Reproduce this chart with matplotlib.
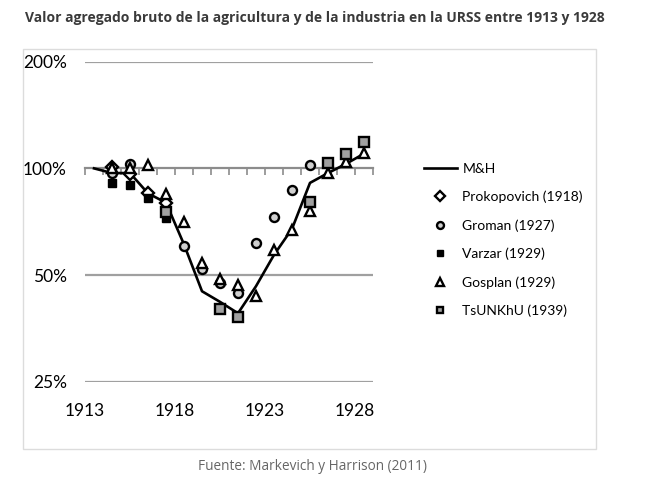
import numpy as np
import matplotlib.pyplot as plt
from matplotlib.patches import Rectangle
from matplotlib.lines import Line2D
import matplotlib.transforms as mtransforms

# data (index, 1913 = 100%)
years = list(range(1913, 1929))
mh = [100, 97, 97, 85, 80, 61, 45, 42, 39, 46.5, 57, 67.5, 91, 97, 103, 110]

prok_years = [1914, 1915, 1916, 1917]
prok_vals = [101, 96.5, 85, 80]

groman_years = [1914, 1915, 1918, 1919, 1920, 1921, 1922, 1923, 1924, 1925]
groman_vals = [97, 103, 60.5, 52, 47.4, 44.6, 61.5, 73, 87, 102]

varzar_years = [1914, 1915, 1916, 1917]
varzar_vals = [91, 90, 82.4, 72.3]

gosplan_years = list(range(1914, 1929))
gosplan_vals = [100, 100.5, 102.4, 84.7, 70.8, 54, 48.8, 47, 43.7, 59, 67, 76, 97, 104, 110.7]

tsu_years = [1917, 1920, 1921, 1925, 1926, 1927, 1928]
tsu_vals = [75.5, 40, 38, 80.6, 103.4, 110, 119]

ytick_vals = [25, 50, 100, 200]
ytick_labels = ['25%', '50%', '100%', '200%']
xlabel_years = [1913, 1918, 1923, 1928]

W, H = 652, 479
fig = plt.figure(figsize=(W / 100, H / 100), dpi=100)
fig.patch.set_facecolor('white')

# light frame around the embedded chart
fig.patches.append(Rectangle((23 / W, 1 - 449 / H), 573 / W, 400 / H,
                             transform=fig.transFigure, fill=False,
                             edgecolor='#dcdcdc', linewidth=1))

ax = fig.add_axes([85 / W, 1 - 381.7 / H, 288 / W, 320 / H])
ax.set_yscale('log')
ax.set_ylim(25, 200)
ax.set_xlim(1912.5, 1928.5)

for s in ['left', 'right', 'top']:
    ax.spines[s].set_visible(False)
ax.spines['bottom'].set_position(('data', 100))
ax.spines['bottom'].set_color('#8c8c8c')
ax.spines['bottom'].set_linewidth(1.6)
ax.set_xticks(np.arange(1912.5, 1929, 1))
ax.tick_params(axis='x', direction='out', length=5, width=1.2,
               color='#8c8c8c', labelbottom=False)

for v in ytick_vals:
    if v != 100:
        ax.axhline(v, color='#a0a0a0', linewidth=1.6, zorder=1)

ax.yaxis.set_major_locator(plt.FixedLocator(ytick_vals))
ax.yaxis.set_minor_locator(plt.NullLocator())
ax.set_yticklabels(ytick_labels)
ax.tick_params(axis='y', length=0, pad=13, labelsize=12.5)
for t in ax.get_yticklabels():
    t.set_fontfamily('Lato')

trans = mtransforms.blended_transform_factory(ax.transData, ax.transAxes)
for yr in xlabel_years:
    ax.text(yr - 0.5, -0.09, str(yr), transform=trans, ha='center', va='center',
            fontsize=12.5, family='Lato')

ms = 6.5
mew = 1.7
ax.plot(years, mh, color='black', linewidth=1.9, zorder=3, label='M&H')
ax.plot(prok_years, prok_vals, linestyle='none', marker='D', ms=ms - 0.5,
        mfc='white', mec='black', mew=mew, zorder=4, clip_on=False)
ax.plot(groman_years, groman_vals, linestyle='none', marker='o', ms=ms,
        mfc='#d0d0d0', mec='black', mew=mew, zorder=4, clip_on=False)
ax.plot(varzar_years, varzar_vals, linestyle='none', marker='s', ms=ms - 0.8,
        mfc='black', mec='black', mew=1, zorder=4, clip_on=False)
ax.plot(gosplan_years, gosplan_vals, linestyle='none', marker='^', ms=ms + 1,
        mfc='white', mec='black', mew=mew, zorder=5, clip_on=False)
ax.plot(tsu_years, tsu_vals, linestyle='none', marker='s', ms=ms,
        mfc='#a0a0a0', mec='black', mew=mew, zorder=5, clip_on=False)

handles = [
    Line2D([], [], color='black', linewidth=1.9),
    Line2D([], [], linestyle='none', marker='D', ms=ms - 1.5, mfc='white', mec='black', mew=mew),
    Line2D([], [], linestyle='none', marker='o', ms=ms - 1.5, mfc='#d0d0d0', mec='black', mew=mew),
    Line2D([], [], linestyle='none', marker='s', ms=ms - 2, mfc='black', mec='black', mew=1),
    Line2D([], [], linestyle='none', marker='^', ms=ms - 0.5, mfc='white', mec='black', mew=mew),
    Line2D([], [], linestyle='none', marker='s', ms=ms - 1.5, mfc='#a0a0a0', mec='black', mew=mew),
]
labels = ['M&H', 'Prokopovich (1918)', 'Groman (1927)', 'Varzar (1929)',
          'Gosplan (1929)', 'TsUNKhU (1939)']
leg = fig.legend(handles, labels, loc='upper left',
                 bbox_to_anchor=(418 / W, 1 - 157 / H), frameon=False,
                 prop={'family': 'Lato', 'size': 10}, handlelength=2.4,
                 handletextpad=0.4, labelspacing=1.15, borderaxespad=0)

fig.text(25 / W, 1 - 18 / H, 'Valor agregado bruto de la agricultura y de la industria en la URSS entre 1913 y 1928',
         ha='left', va='center', fontsize=10, fontweight='bold',
         family='Open Sans', color='#3a3a3a')
fig.text(313 / W, 1 - 466 / H, 'Fuente: Markevich y Harrison (2011)',
         ha='center', va='center', fontsize=9.8, family='Open Sans', color='#666666')

fig.savefig('out.png', dpi=100, facecolor='white')
